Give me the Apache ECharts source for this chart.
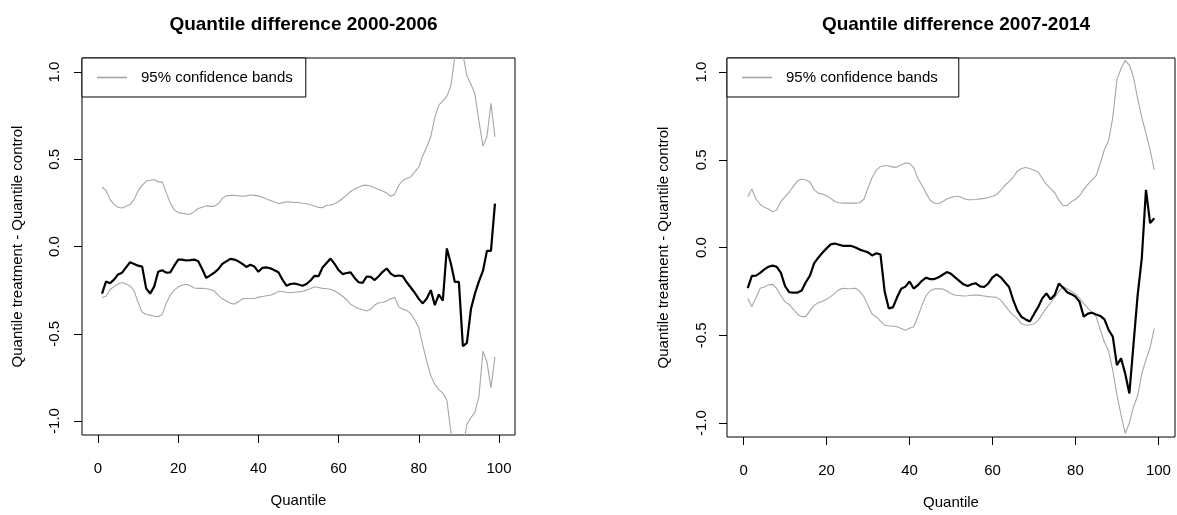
<!DOCTYPE html>
<html>
<head>
<meta charset="utf-8">
<script src="https://cdn.jsdelivr.net/npm/echarts@6.0.0/dist/echarts.min.js"></script>
<style>
html,body{margin:0;padding:0;background:#fff;}
#chart{width:1177px;height:515px;}
</style>
</head>
<body>
<div id="chart"></div>
<script>
// ---- data ----
const quantiles = Array.from({length: 99}, (_, i) => i + 1);
const xTicks = [0, 20, 40, 60, 80, 100];
const yTicks = [-1.0, -0.5, 0.0, 0.5, 1.0];
const titles = ['Quantile difference 2000-2006', 'Quantile difference 2007-2014'];
const xName = 'Quantile';
const yName = 'Quantile treatment - Quantile control';
const bandName = '95% confidence bands';

const diff2000 = [
 -0.27,-0.20,-0.21,-0.19,-0.16,-0.15,-0.12,-0.09,-0.10,-0.11,
 -0.115,-0.24,-0.27,-0.23,-0.145,-0.136,-0.15,-0.149,-0.11,-0.075,
 -0.075,-0.08,-0.078,-0.075,-0.085,-0.13,-0.18,-0.165,-0.15,-0.13,
 -0.10,-0.085,-0.071,-0.075,-0.085,-0.10,-0.117,-0.105,-0.115,-0.145,
 -0.122,-0.12,-0.125,-0.136,-0.148,-0.19,-0.225,-0.215,-0.212,-0.218,
 -0.225,-0.215,-0.195,-0.168,-0.17,-0.12,-0.095,-0.069,-0.10,-0.135,
 -0.158,-0.152,-0.148,-0.18,-0.205,-0.208,-0.172,-0.174,-0.192,-0.17,
 -0.145,-0.126,-0.155,-0.17,-0.166,-0.17,-0.205,-0.235,-0.265,-0.30,
 -0.326,-0.298,-0.25,-0.336,-0.275,-0.31,-0.011,-0.097,-0.203,-0.203,
 -0.571,-0.552,-0.36,-0.27,-0.20,-0.14,-0.025,-0.025,0.246
];
const upper2000 = [
 0.341,0.32,0.27,0.24,0.225,0.221,0.23,0.24,0.27,0.32,
 0.35,0.375,0.38,0.384,0.37,0.37,0.31,0.25,0.21,0.195,
 0.19,0.187,0.185,0.20,0.218,0.225,0.233,0.23,0.23,0.246,
 0.275,0.29,0.293,0.294,0.29,0.288,0.29,0.295,0.293,0.29,
 0.282,0.272,0.264,0.255,0.246,0.25,0.256,0.254,0.252,0.252,
 0.248,0.246,0.238,0.232,0.224,0.222,0.236,0.237,0.245,0.258,
 0.275,0.294,0.315,0.33,0.34,0.35,0.351,0.347,0.336,0.326,
 0.318,0.306,0.288,0.30,0.35,0.378,0.39,0.40,0.427,0.455,
 0.52,0.57,0.63,0.74,0.81,0.835,0.86,0.92,1.09,1.18,
 1.10,0.98,0.93,0.875,0.72,0.575,0.63,0.82,0.628
];
const lower2000 = [
 -0.292,-0.285,-0.246,-0.23,-0.215,-0.206,-0.215,-0.226,-0.255,-0.32,
 -0.375,-0.39,-0.393,-0.40,-0.402,-0.39,-0.326,-0.28,-0.25,-0.231,
 -0.222,-0.216,-0.225,-0.238,-0.24,-0.24,-0.242,-0.246,-0.255,-0.28,
 -0.30,-0.312,-0.325,-0.33,-0.317,-0.30,-0.298,-0.298,-0.298,-0.29,
 -0.286,-0.282,-0.279,-0.27,-0.258,-0.258,-0.262,-0.265,-0.262,-0.26,
 -0.256,-0.25,-0.24,-0.231,-0.235,-0.24,-0.242,-0.245,-0.255,-0.268,
 -0.285,-0.305,-0.33,-0.345,-0.355,-0.362,-0.369,-0.36,-0.335,-0.322,
 -0.321,-0.312,-0.30,-0.292,-0.346,-0.36,-0.366,-0.385,-0.42,-0.465,
 -0.565,-0.66,-0.74,-0.79,-0.82,-0.84,-0.88,-1.06,-1.15,-1.2,
 -1.15,-1.02,-0.98,-0.95,-0.86,-0.60,-0.66,-0.81,-0.632
];
const diff2007 = [
 -0.232,-0.162,-0.160,-0.145,-0.125,-0.11,-0.103,-0.11,-0.145,-0.22,
 -0.255,-0.257,-0.257,-0.245,-0.198,-0.16,-0.09,-0.058,-0.03,-0.005,
 0.018,0.023,0.016,0.009,0.009,0.009,0.0,-0.012,-0.02,-0.028,
 -0.045,-0.033,-0.04,-0.25,-0.347,-0.341,-0.284,-0.235,-0.223,-0.194,
 -0.234,-0.215,-0.19,-0.172,-0.18,-0.18,-0.170,-0.155,-0.14,-0.15,
 -0.17,-0.19,-0.21,-0.22,-0.209,-0.204,-0.222,-0.225,-0.205,-0.17,
 -0.153,-0.17,-0.198,-0.225,-0.30,-0.36,-0.395,-0.41,-0.422,-0.38,
 -0.34,-0.29,-0.262,-0.295,-0.27,-0.206,-0.228,-0.255,-0.266,-0.28,
 -0.31,-0.394,-0.377,-0.372,-0.382,-0.39,-0.41,-0.47,-0.508,-0.67,
 -0.632,-0.72,-0.832,-0.55,-0.27,-0.06,0.329,0.139,0.167
];
const upper2007 = [
 0.29,0.333,0.275,0.245,0.23,0.219,0.203,0.215,0.262,0.29,
 0.315,0.348,0.38,0.39,0.385,0.374,0.33,0.31,0.305,0.295,
 0.28,0.262,0.255,0.253,0.253,0.253,0.253,0.255,0.275,0.34,
 0.40,0.44,0.462,0.466,0.466,0.458,0.458,0.472,0.482,0.48,
 0.455,0.395,0.355,0.31,0.268,0.252,0.249,0.262,0.276,0.285,
 0.291,0.291,0.28,0.272,0.272,0.274,0.277,0.28,0.285,0.292,
 0.302,0.325,0.355,0.375,0.40,0.435,0.45,0.456,0.45,0.44,
 0.43,0.395,0.36,0.335,0.312,0.27,0.238,0.24,0.26,0.275,
 0.295,0.33,0.36,0.386,0.41,0.48,0.56,0.61,0.74,0.957,
 1.02,1.067,1.04,0.97,0.85,0.74,0.65,0.557,0.443
];
const lower2007 = [
 -0.29,-0.337,-0.285,-0.232,-0.225,-0.213,-0.21,-0.235,-0.275,-0.31,
 -0.325,-0.352,-0.38,-0.394,-0.394,-0.36,-0.33,-0.315,-0.308,-0.295,
 -0.28,-0.26,-0.24,-0.232,-0.235,-0.234,-0.232,-0.25,-0.28,-0.33,
 -0.38,-0.396,-0.42,-0.443,-0.447,-0.447,-0.452,-0.462,-0.472,-0.46,
 -0.452,-0.395,-0.33,-0.275,-0.245,-0.236,-0.236,-0.236,-0.248,-0.262,
 -0.272,-0.274,-0.276,-0.275,-0.272,-0.271,-0.273,-0.276,-0.28,-0.282,
 -0.284,-0.30,-0.33,-0.36,-0.385,-0.405,-0.435,-0.442,-0.442,-0.435,
 -0.415,-0.38,-0.345,-0.315,-0.285,-0.25,-0.223,-0.235,-0.25,-0.266,
 -0.29,-0.32,-0.345,-0.37,-0.394,-0.47,-0.54,-0.59,-0.70,-0.84,
 -0.955,-1.06,-1.0,-0.908,-0.845,-0.718,-0.64,-0.57,-0.461
];

// ---- chart ----
const FONT = '"Liberation Sans", Arial, Helvetica, sans-serif';
const BAND = '#a6a6a6';
const pair = arr => quantiles.map((q, i) => [q, arr[i]]);

const grids = [
  {left: 82, top: 58, width: 433, height: 377},
  {left: 727, top: 58, width: 448, height: 380}
];
const titleX = [298.5, 951];
const yLabelMargin = [20, 18];
const yNameGap = [57, 56];

function xAxisCfg(gi) {
  return {
    type: 'value', gridIndex: gi, min: -4, max: 104, position: 'bottom',
    name: xName, nameLocation: 'middle', nameGap: 58,
    nameTextStyle: {fontSize: 15, color: '#000', fontFamily: FONT},
    axisLine: {show: false, onZero: false},
    axisTick: {show: true, inside: false, length: 8, customValues: xTicks,
               lineStyle: {color: '#000', width: 1}},
    axisLabel: {customValues: xTicks, fontSize: 15, color: '#000', fontFamily: FONT, margin: 26},
    splitLine: {show: false}
  };
}
function yAxisCfg(gi) {
  return {
    type: 'value', gridIndex: gi, min: -1.08, max: 1.08, position: 'left',
    name: yName, nameLocation: 'middle', nameGap: yNameGap[gi], nameRotate: 90,
    nameTextStyle: {fontSize: 15, color: '#000', fontFamily: FONT},
    axisLine: {show: false, onZero: false},
    axisTick: {show: true, inside: false, length: 8, customValues: yTicks,
               lineStyle: {color: '#000', width: 1}},
    axisLabel: {customValues: yTicks, rotate: 90, fontSize: 15, color: '#000', fontFamily: FONT,
                margin: yLabelMargin[gi], formatter: v => Number(v).toFixed(1)},
    splitLine: {show: false}
  };
}
function bandSeries(gi, arr) {
  return {
    type: 'line', name: bandName, xAxisIndex: gi, yAxisIndex: gi,
    data: pair(arr), symbol: 'none', showSymbol: false, clip: true,
    lineStyle: {color: BAND, width: 1.1}, itemStyle: {color: BAND},
    animation: false, silent: true, z: 2
  };
}
function diffSeries(gi, arr) {
  return {
    type: 'line', name: 'difference', xAxisIndex: gi, yAxisIndex: gi,
    data: pair(arr), symbol: 'none', showSymbol: false, clip: true,
    lineStyle: {color: '#000', width: 2.2}, itemStyle: {color: '#000'},
    animation: false, silent: true, z: 3
  };
}
function legendCfg(gi, right) {
  return {
    data: [{name: bandName, icon: 'rect'}], left: grids[gi].left, top: grids[gi].top,
    orient: 'horizontal', itemWidth: 30, itemHeight: 1.6,
    padding: [12, right, 12, 15],
    borderColor: '#000', borderWidth: 1, backgroundColor: '#fff', borderRadius: 0,
    selectedMode: false,
    itemStyle: {color: BAND, borderWidth: 0},
    textStyle: {fontSize: 15, color: '#000', fontFamily: FONT, padding: [0, 0, 0, 9]},
    z: 10
  };
}

const chart = echarts.init(document.getElementById('chart'), null, {renderer: 'canvas'});
chart.setOption({
  animation: false,
  backgroundColor: '#fff',
  title: titles.map((t, i) => ({
    text: t, left: titleX[i], top: 10, textAlign: 'center',
    textStyle: {fontSize: 19, fontWeight: 'bold', color: '#000', fontFamily: FONT}
  })),
  legend: [legendCfg(0, 13), legendCfg(1, 21)],
  grid: grids.map(g => Object.assign({show: true, borderColor: '#000', borderWidth: 1,
                                      backgroundColor: 'transparent', containLabel: false}, g)),
  xAxis: [xAxisCfg(0), xAxisCfg(1)],
  yAxis: [yAxisCfg(0), yAxisCfg(1)],
  series: [
    bandSeries(0, upper2000), bandSeries(0, lower2000), diffSeries(0, diff2000),
    bandSeries(1, upper2007), bandSeries(1, lower2007), diffSeries(1, diff2007)
  ]
});
</script>
</body>
</html>
